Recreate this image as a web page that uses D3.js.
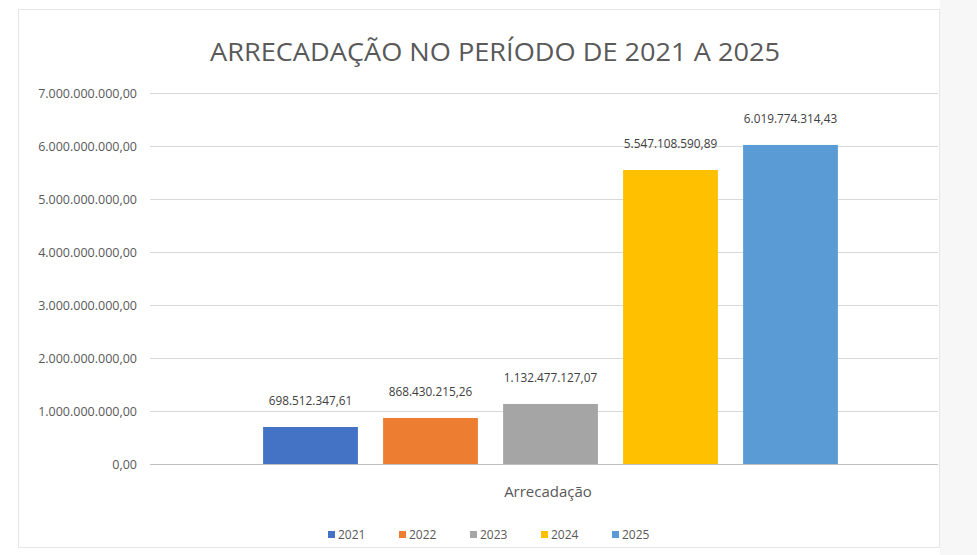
<!DOCTYPE html>
<html><head><meta charset="utf-8">
<script src="https://cdn.jsdelivr.net/npm/d3@7"></script>
<style>body{margin:0;background:#fff;}svg{display:block;font-family:"Open Sans","Liberation Sans",sans-serif;}</style>
</head><body><svg id="c" width="977" height="555"></svg>
<script>
const title = "ARRECADAÇÃO NO PERÍODO DE 2021 A 2025";
const category = "Arrecadação";
const series = ["2021", "2022", "2023", "2024", "2025"];
const values = [698512347.61, 868430215.26, 1132477127.07, 5547108590.89, 6019774314.43];
const colors = ["#4472C4", "#ED7D31", "#A5A5A5", "#FFC000", "#5B9BD5"];
const yTicks = [0, 1e9, 2e9, 3e9, 4e9, 5e9, 6e9, 7e9];

const loc = d3.formatLocale({decimal: ",", thousands: ".", grouping: [3], currency: ["R$", ""]});
const fmt = loc.format(",.2f");

const svg = d3.select("#c");
svg.append("rect").attr("x",940).attr("y",0).attr("width",37).attr("height",555).attr("fill","#f7f7f7");
svg.append("rect").attr("x",18.5).attr("y",9.5).attr("width",921).attr("height",538).attr("fill","#fff").attr("stroke","#e6e6e6");

const y = d3.scaleLinear().domain([0, 7e9]).range([464, 93]);
const x = d3.scaleBand().domain(series).range([250.5, 850.5]).paddingInner(0.21).paddingOuter(0.105);

svg.append("g").selectAll("line").data(yTicks).join("line")
  .attr("x1",150).attr("x2",938).attr("y1",d=>Math.round(y(d))+0.5).attr("y2",d=>Math.round(y(d))+0.5)
  .attr("stroke",d=>d===0?"#bfbfbf":"#d9d9d9").attr("stroke-width",1);

const yAxis = d3.axisLeft(y).tickValues(yTicks).tickFormat(fmt).tickSize(0).tickPadding(0);
const ya = svg.append("g").attr("transform","translate(137,0)").call(yAxis);
ya.select(".domain").remove();
ya.selectAll("text").attr("fill","#595959").style("font-size","12.5px").style("font-family","'Open Sans',sans-serif");

svg.append("g").selectAll("rect").data(series).join("rect")
  .attr("x",d=>x(d)).attr("width",x.bandwidth())
  .attr("y",(d,i)=>y(values[i])).attr("height",(d,i)=>y(0)-y(values[i]))
  .attr("fill",(d,i)=>colors[i]);

svg.append("g").selectAll("text").data(series).join("text")
  .attr("x",d=>x(d)+x.bandwidth()/2).attr("y",(d,i)=>y(values[i])-22)
  .attr("text-anchor","middle").attr("fill","#404040").style("font-size","11.8px")
  .text((d,i)=>fmt(values[i]));

svg.append("text").attr("x",548).attr("y",497).attr("text-anchor","middle")
  .attr("fill","#595959").style("font-size","15px").text(category);

svg.append("text").attr("x",495).attr("y",61).attr("text-anchor","middle")
  .attr("fill","#595959").style("font-size","25px").attr("textLength",570).attr("lengthAdjust","spacingAndGlyphs").text(title);

const lg = svg.append("g").selectAll("g").data(series).join("g")
  .attr("transform",(d,i)=>`translate(${328 + i*71},535)`);
lg.append("rect").attr("x",0).attr("y",-4).attr("width",7).attr("height",7).attr("fill",(d,i)=>colors[i]);
lg.append("text").attr("x",10).attr("y",4).attr("fill","#595959").style("font-size","12px").text(d=>d);
</script></body></html>
